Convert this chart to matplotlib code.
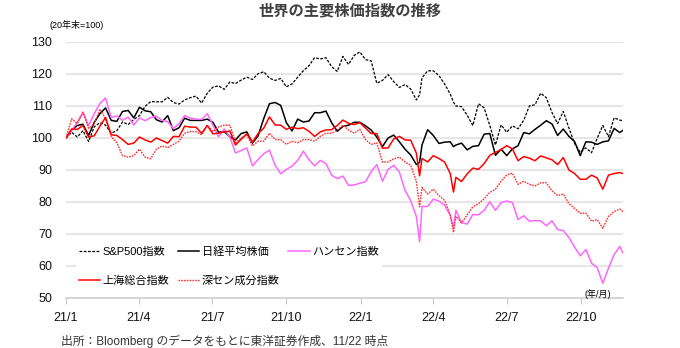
import pandas as pd
import matplotlib
matplotlib.use('Agg')
import matplotlib.pyplot as plt

plt.rcParams['font.family'] = ['Liberation Sans', 'Noto Sans CJK JP']

# weekly (Friday) readings, plus a few intra-week lows
dates = pd.date_range('2021-01-01', '2022-11-18', freq='7D')
dates = dates.append(pd.to_datetime(['2022-03-15', '2022-04-26', '2022-11-22'])).sort_values()

sp500 = [
    100.0, 101.8, 100.3, 102.3, 98.9, 103.5, 104.8, 104.0, 101.5, 102.3, 105.0, 104.2, 105.8,
    107.0, 109.9, 111.4, 111.3, 111.3, 112.7, 111.1, 110.6, 111.9, 112.6, 113.1, 110.9, 114.0,
    115.9, 116.3, 115.2, 117.5, 117.0, 118.1, 119.0, 118.3, 120.1, 120.7, 118.7, 118.0, 118.6,
    116.0, 116.9, 119.0, 121.0, 122.6, 125.1, 124.7, 125.1, 122.3, 120.8, 125.5, 123.0, 125.8, 126.9,
    124.5, 124.1, 117.1, 118.0, 119.8, 117.6, 115.8, 116.7, 115.3, 111.9, 113.5, 118.8, 121.0,
    121.0, 119.5, 116.9, 113.7, 111.2, 110.0, 109.8, 107.1, 103.9, 110.7, 109.4, 103.9, 97.8, 104.1,
    101.8, 103.8, 102.9, 105.5, 110.0, 110.4, 114.0, 112.6, 108.0, 104.5, 108.3, 103.1, 98.3, 95.5,
    96.9, 95.4, 99.9, 103.9, 100.4, 106.3, 105.6, 105.4,
]
nikkei = [
    100.0, 102.5, 103.9, 104.3, 100.8, 104.9, 107.6, 109.4, 105.5, 105.2, 108.3, 108.6, 106.3,
    109.6, 108.5, 108.2, 105.7, 105.0, 107.0, 102.3, 103.2, 106.2, 105.5, 105.5, 105.5, 105.9,
    104.9, 101.8, 102.0, 100.4, 99.4, 101.4, 101.9, 98.4, 100.7, 106.1, 110.7, 111.1, 110.2,
    104.8, 102.2, 105.9, 105.0, 105.3, 107.9, 107.9, 108.4, 104.8, 102.1, 103.6, 104.0, 104.9, 104.9,
    103.8, 102.5, 100.3, 97.3, 100.0, 100.9, 98.8, 96.5, 94.7, 91.7, 92.4, 97.8, 102.6,
    100.8, 98.3, 98.7, 98.8, 97.3, 97.8, 98.4, 96.3, 97.4, 97.6, 101.2, 101.4, 94.6, 96.5,
    94.5, 96.6, 97.6, 101.7, 101.3, 102.7, 104.0, 105.4, 104.4, 100.8, 102.8, 100.5, 98.9, 94.5,
    98.8, 98.7, 98.0, 98.8, 99.1, 103.0, 101.7, 102.4,
]
hangseng = [
    100.0, 102.4, 104.9, 108.1, 103.9, 107.6, 110.8, 112.5, 106.4, 106.9, 105.5, 106.5, 104.1,
    106.3, 105.4, 106.4, 106.8, 105.5, 105.1, 102.9, 104.5, 107.0, 106.2, 105.9, 105.8, 107.6,
    104.0, 100.4, 102.8, 100.3, 95.3, 96.1, 96.9, 91.3, 93.3, 95.1, 96.2, 91.5, 88.8,
    90.2, 91.2, 93.0, 95.9, 93.2, 91.3, 93.0, 92.0, 88.4, 87.3, 88.1, 85.2, 85.3, 85.9,
    86.3, 89.5, 91.7, 86.5, 90.2, 91.5, 89.3, 83.6, 80.4, 75.5, 67.6, 78.6, 78.6,
    80.9, 80.3, 79.0, 75.8, 72.0, 77.4, 73.5, 73.1, 76.1, 76.0, 77.4, 80.1, 77.4, 79.8,
    80.3, 79.8, 74.5, 75.7, 74.0, 74.2, 74.1, 72.6, 74.1, 71.4, 71.1, 68.9, 65.9, 63.2,
    65.1, 60.9, 59.5, 54.6, 59.3, 63.6, 66.1, 64.0,
]
shanghai = [
    100.0, 102.8, 102.7, 103.9, 100.3, 100.7, 103.7, 106.4, 101.0, 100.8, 99.5, 98.0, 98.4,
    100.3, 99.4, 98.7, 100.0, 99.2, 98.4, 100.5, 100.4, 103.7, 103.4, 103.4, 101.5, 103.9,
    101.3, 101.5, 101.9, 102.2, 97.8, 99.6, 101.3, 98.7, 101.4, 103.1, 106.6, 104.1, 104.0,
    102.7, 103.4, 102.9, 103.2, 102.1, 100.5, 101.9, 102.5, 102.6, 103.9, 105.6, 104.6, 104.2, 104.8,
    103.1, 101.4, 101.4, 96.8, 96.9, 99.7, 100.5, 99.4, 99.3, 95.3, 88.2, 93.6, 92.5,
    94.5, 93.6, 92.5, 88.9, 83.1, 87.7, 86.4, 88.8, 90.6, 90.2, 92.0, 94.6, 95.5, 96.4,
    97.6, 96.6, 92.9, 94.2, 93.7, 92.9, 94.4, 93.8, 93.2, 91.7, 93.9, 90.0, 88.9, 87.1,
    87.1, 88.4, 87.5, 84.0, 88.4, 88.9, 89.2, 88.9,
]
shenzhen = [
    100.0, 106.0, 104.5, 108.0, 103.0, 104.5, 109.0, 106.0, 100.5, 98.5, 94.5, 94.0, 94.5,
    96.5, 94.0, 93.5, 96.5, 97.5, 97.0, 98.0, 99.0, 101.5, 102.0, 102.0, 101.0, 104.0,
    102.0, 103.5, 104.0, 104.0, 98.5, 100.0, 101.0, 97.5, 99.0, 99.0, 101.5, 99.5, 99.5,
    98.0, 99.0, 98.5, 99.5, 99.5, 99.0, 100.5, 101.5, 101.5, 102.5, 104.0, 102.5, 101.5, 102.7,
    99.5, 98.0, 98.5, 92.5, 92.5, 93.5, 94.0, 92.5, 91.5, 86.5, 78.5, 84.5, 82.5,
    84.0, 82.0, 80.5, 76.0, 70.5, 75.5, 73.5, 76.0, 78.5, 79.5, 81.0, 83.0, 84.0, 86.5,
    88.5, 89.0, 85.5, 86.5, 85.5, 85.0, 86.0, 86.0, 83.5, 82.0, 82.5, 79.5, 78.0, 76.5,
    76.5, 74.0, 74.5, 71.8, 75.5, 77.0, 77.8, 77.0,
]

tick_dates = pd.to_datetime(['2021-01-01', '2021-04-01', '2021-07-01', '2021-10-01',
                             '2022-01-01', '2022-04-01', '2022-07-01', '2022-10-01'])
tick_labels = ['21/1', '21/4', '21/7', '21/10', '22/1', '22/4', '22/7', '22/10']

fig = plt.figure(figsize=(6.8, 3.48), dpi=100)
ax = fig.add_axes([66 / 680, 1 - 298 / 348, (623 - 66) / 680, (298 - 42) / 348])

l_sp, = ax.plot(dates, sp500, color='black', lw=0.9, ls=(0, (2.2, 1.2)), label='S&P500指数')
l_nk, = ax.plot(dates, nikkei, color='black', lw=1.1, label='日経平均株価')
l_hs, = ax.plot(dates, hangseng, color='#ff66ff', lw=1.1, label='ハンセン指数')
l_sz, = ax.plot(dates, shenzhen, color='#ff3030', lw=1.0, ls=(0, (1.2, 0.8)), label='深セン成分指数')
l_sh, = ax.plot(dates, shanghai, color='red', lw=1.1, label='上海総合指数')

ax.set_xlim(pd.Timestamp('2021-01-01'), pd.Timestamp('2022-11-22'))
ax.set_ylim(50, 130)
ax.set_yticks(range(50, 131, 10))
ax.set_xticks(tick_dates)
ax.set_xticklabels(tick_labels)
ax.yaxis.grid(True, color='#e6e6e6', lw=1.5)
ax.set_axisbelow(True)
for s in ['top', 'right', 'left']:
    ax.spines[s].set_visible(False)
ax.spines['bottom'].set_color('#d0d0d0')
ax.spines['bottom'].set_linewidth(1.2)
ax.tick_params(axis='y', length=0, pad=10, labelsize=9, labelcolor='#111111')
ax.tick_params(axis='x', length=4, color='#c8c8c8', pad=6, labelsize=9, labelcolor='#111111')

order = [l_sp, l_sh, l_nk, l_sz, l_hs]
leg = ax.legend(order, [l.get_label() for l in order],
                ncol=3, loc='upper left', bbox_to_anchor=(76 / 680, 1 - 243 / 348),
                bbox_transform=fig.transFigure, fontsize=8, frameon=True, fancybox=False,
                framealpha=1, edgecolor='none', borderpad=0.3, borderaxespad=0,
                handlelength=1.9, handletextpad=0.2, columnspacing=0.8, labelspacing=1.65)

fig.text(350 / 680, 1 - 10 / 348, '世界の主要株価指数の推移', ha='center', va='center',
         fontsize=11, fontweight='bold', color='#404040', family=['Noto Sans CJK JP'])
fig.text(50 / 680, 1 - 25 / 348, '(20年末=100)', ha='left', va='center', fontsize=6.5)
fig.text(598 / 680, 1 - 294 / 348, '(年/月)', ha='center', va='center', fontsize=6.5)
fig.text(61 / 680, 1 - 341 / 348, '出所：Bloomberg のデータをもとに東洋証券作成、11/22 時点',
         ha='left', va='center', fontsize=8.5, color='#333333')

fig.savefig('out.png', dpi=100)
